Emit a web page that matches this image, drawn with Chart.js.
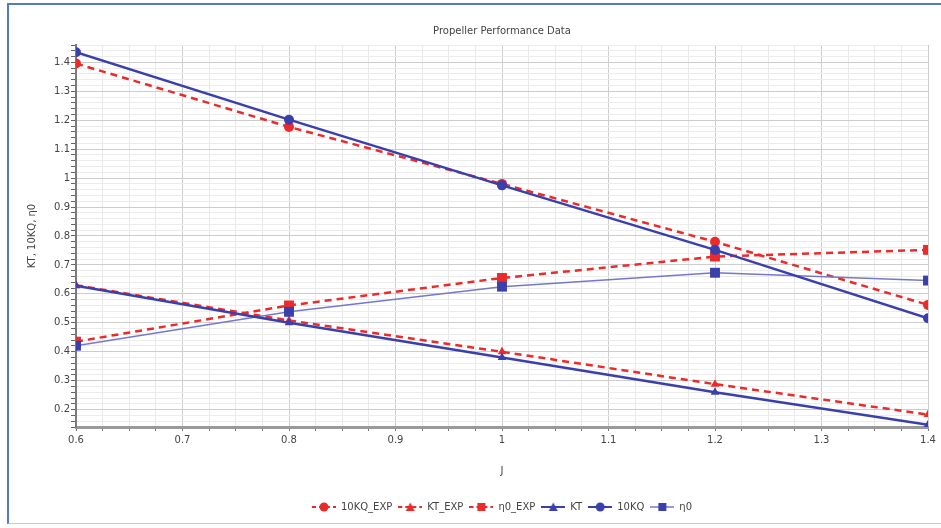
<!DOCTYPE html>
<html>
<head>
<meta charset="utf-8">
<script src="https://cdn.jsdelivr.net/npm/chart.js@4/dist/chart.umd.min.js"></script>
<style>
  html, body { margin: 0; padding: 0; background: #ffffff; }
  body { width: 941px; height: 528px; position: relative; overflow: hidden; }
  #frame { position: absolute; left: 7px; top: 3px; width: 940px; height: 521px;
           border-top: 2px solid #5479c8; border-left: 2px solid #5479c8; border-bottom: 1px solid #c9c9c9; box-sizing: border-box; }
  #wrap { position: absolute; left: 0; top: 0; width: 941px; height: 528px; }
</style>
</head>
<body>
<div id="frame"></div>
<div id="wrap"><canvas id="c" width="941" height="528"></canvas></div>
<script>
// ---- data ----
const J = [0.6, 0.8, 1.0, 1.2, 1.4];
const tenKQ_EXP = [1.396, 1.177, 0.980, 0.780, 0.562];
const KT_EXP    = [0.630, 0.508, 0.400, 0.288, 0.183];
const eta0_EXP  = [0.435, 0.560, 0.655, 0.729, 0.752];
const KT        = [0.628, 0.500, 0.380, 0.260, 0.148];
const tenKQ     = [1.435, 1.202, 0.975, 0.752, 0.516];
const eta0      = [0.421, 0.538, 0.625, 0.673, 0.646];
const seriesNames = ['10KQ_EXP', 'KT_EXP', 'η0_EXP', 'KT', '10KQ', 'η0'];
const chartTitle = 'Propeller Performance Data';
const xTitle = 'J';
const yTitle = 'KT, 10KQ, η0';
const xMin = 0.6, xMax = 1.4, xMinorStep = 0.025;
const yMin = 0.14, yMax = 1.46, yMinorStep = 0.02;

const RED = '#ea2b2b';
const BLUE = '#3a3fac';
const BLUE_LIGHT = '#7378cc';
const FONT = 'DejaVu Sans';

function pts(ys) { return J.map((x, i) => ({ x: x, y: ys[i] })); }

const styles = [
  { data: tenKQ_EXP, color: RED, line: RED, width: 2.5, dash: [7, 5], point: 'circle', r: 5, order: 1 },
  { data: KT_EXP,    color: RED, line: RED, width: 2.5, dash: [7, 5], point: 'triangle', r: 5, order: 1 },
  { data: eta0_EXP,  color: RED, line: RED, width: 2.5, dash: [7, 5], point: 'rect', r: 7, order: 1 },
  { data: KT,        color: BLUE, line: BLUE, width: 2.5, dash: [], point: 'triangle', r: 5, order: 0 },
  { data: tenKQ,     color: BLUE, line: BLUE, width: 2.5, dash: [], point: 'circle', r: 5, order: 0 },
  { data: eta0,      color: BLUE, line: BLUE_LIGHT, width: 1.5, dash: [], point: 'rect', r: 7, order: 0 }
];

// legend symbols: line + marker
function legendIcon(s) {
  const c = document.createElement('canvas');
  c.width = 24; c.height = 12;
  const g = c.getContext('2d');
  g.strokeStyle = s.line; g.lineWidth = s.width >= 2 ? 2 : 1.5;
  g.setLineDash(s.dash.length ? [4, 3] : []);
  g.beginPath(); g.moveTo(0, 6); g.lineTo(24, 6); g.stroke();
  g.setLineDash([]);
  g.fillStyle = s.color;
  g.beginPath();
  if (s.point === 'circle') { g.arc(12, 6, 4.5, 0, Math.PI * 2); }
  else if (s.point === 'rect') { g.rect(8, 2, 8, 8); }
  else { g.moveTo(12, 1.5); g.lineTo(16.5, 10); g.lineTo(7.5, 10); g.closePath(); }
  g.fill();
  return c;
}
const icons = styles.map(legendIcon);

const datasets = styles.map((s, i) => ({
  label: seriesNames[i],
  data: pts(s.data),
  borderColor: s.line,
  backgroundColor: s.color,
  borderWidth: s.width,
  borderDash: s.dash,
  pointStyle: s.point,
  pointRadius: s.r,
  pointHoverRadius: s.r,
  pointBackgroundColor: s.color,
  pointBorderColor: s.color,
  pointBorderWidth: 0,
  tension: 0,
  order: s.order
}));

function isMajor(v, step) { const k = v / step; return Math.abs(k - Math.round(k)) < 1e-6; }
function fmt(v) { return String(Math.round(v * 10) / 10); }

const centerBlocks = {
  id: 'centerBlocks',
  afterLayout(chart) {
    const a = chart.chartArea;
    [chart.titleBlock, chart.legend].forEach(b => {
      if (b) { b.left = a.left; b.right = a.right; b.width = a.right - a.left; }
    });
  }
};

new Chart(document.getElementById('c'), {
  type: 'line',
  data: { datasets },
  plugins: [centerBlocks],
  options: {
    responsive: false,
    animation: false,
    devicePixelRatio: 1,
    layout: { padding: { left: 8, right: 13, top: 25, bottom: 6 } },
    plugins: {
      tooltip: { enabled: false },
      title: {
        display: true, text: chartTitle, color: '#444',
        font: { family: FONT, size: 10, weight: 'normal' },
        padding: { top: 0, bottom: 8 }
      },
      legend: {
        position: 'bottom',
        labels: {
          usePointStyle: true, pointStyleWidth: 24, padding: 6,
          color: '#444', font: { family: FONT, size: 10 },
          generateLabels(chart) {
            const items = Chart.defaults.plugins.legend.labels.generateLabels(chart);
            items.forEach(it => { it.pointStyle = icons[it.datasetIndex]; it.lineWidth = 0; });
            return items;
          },
          sort: (a, b) => a.datasetIndex - b.datasetIndex
        }
      }
    },
    scales: {
      x: {
        type: 'linear', min: xMin, max: xMax,
        afterFit(scale) { scale.height = 69; },
        afterBuildTicks(scale) {
          const t = [];
          const n = Math.round((xMax - xMin) / xMinorStep);
          for (let i = 0; i <= n; i++) t.push({ value: Math.round((xMin + i * xMinorStep) * 1000) / 1000 });
          scale.ticks = t;
        },
        ticks: {
          autoSkip: false, maxRotation: 0, padding: 3, color: '#444',
          font: { family: FONT, size: 10 },
          callback: (v) => isMajor(v, 0.1) ? fmt(v) : ''
        },
        grid: {
          color: (ctx) => (ctx.tick && isMajor(ctx.tick.value, 0.1)) ? '#cdcdcd' : '#e9e9e9',
          lineWidth: 1, tickLength: 4, tickColor: '#777', drawTicks: true
        },
        border: { display: true, color: '#9a9a9a', width: 3 },
        title: { display: true, text: xTitle, color: '#444', font: { family: FONT, size: 10 }, padding: { top: 0, bottom: 19 } }
      },
      y: {
        type: 'linear', min: yMin, max: yMax,
        afterFit(scale) { scale.width = 68; },
        afterBuildTicks(scale) {
          const t = [];
          const n = Math.round((yMax - yMin) / yMinorStep);
          for (let i = 0; i <= n; i++) t.push({ value: Math.round((yMin + i * yMinorStep) * 1000) / 1000 });
          scale.ticks = t;
        },
        ticks: {
          autoSkip: false, padding: 1, color: '#444',
          font: { family: FONT, size: 10 },
          callback: (v) => isMajor(v, 0.1) ? fmt(v) : ''
        },
        grid: {
          color: (ctx) => (ctx.tick && isMajor(ctx.tick.value, 0.1)) ? '#cdcdcd' : '#ececec',
          lineWidth: 1, tickLength: 5, tickColor: '#666', drawTicks: true
        },
        border: { display: true, color: '#7a7a7a', width: 2 },
        title: { display: true, text: yTitle, color: '#444', font: { family: FONT, size: 10 }, padding: { top: 18, bottom: 0 } }
      }
    }
  }
});
</script>
</body>
</html>
